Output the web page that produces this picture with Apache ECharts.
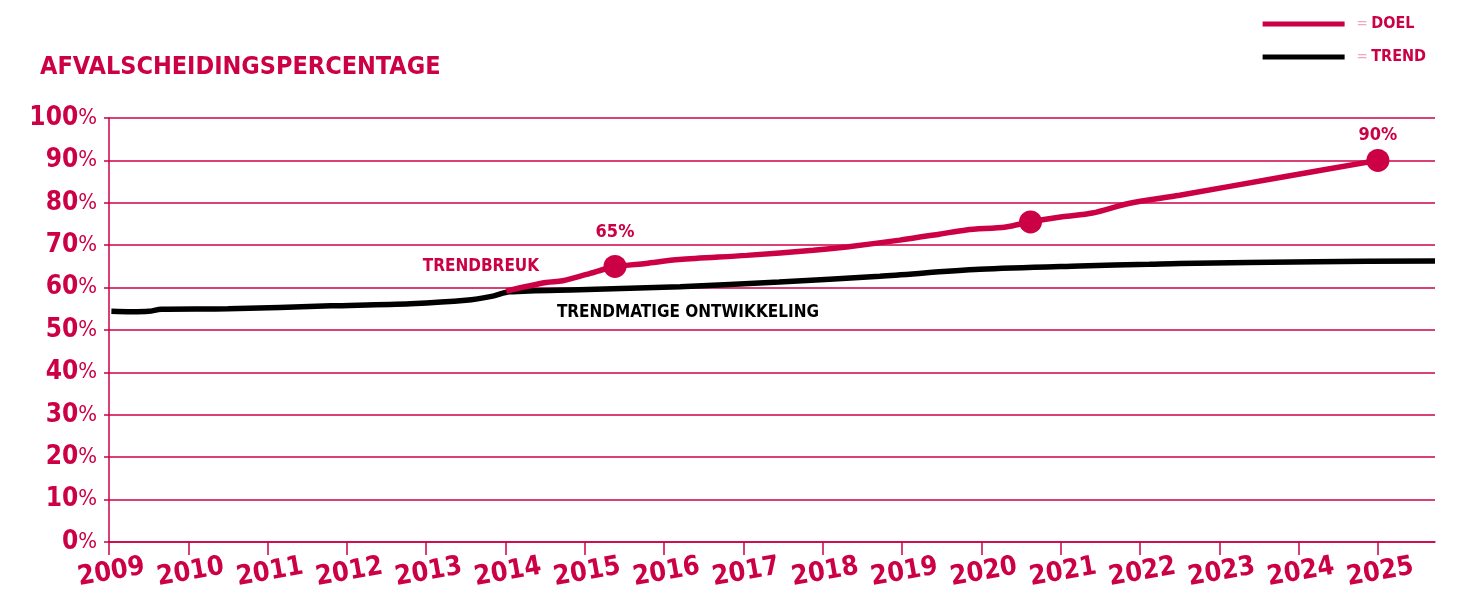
<!DOCTYPE html>
<html>
<head>
<meta charset="utf-8">
<script src="https://cdn.jsdelivr.net/npm/echarts@6/dist/echarts.min.js"></script>
<style>
  html, body { margin: 0; padding: 0; background: #fff; }
  #main { width: 1468px; height: 596px; }
</style>
</head>
<body>
<div id="main"></div>
<script>
  var CRIMSON = '#cc0044';
  var FONT = '"Liberation Sans Narrow", "DejaVu Sans Condensed", "Roboto Condensed", "Liberation Sans", sans-serif';

  // x-as jaartallen en y-as percentages
  var years = [2009, 2010, 2011, 2012, 2013, 2014, 2015, 2016, 2017, 2018, 2019, 2020, 2021, 2022, 2023, 2024, 2025];
  var pctTicks = [0, 10, 20, 30, 40, 50, 60, 70, 80, 90, 100];

  // trendmatige ontwikkeling (zwart)
  var trendYears = [2009.03, 2009.28, 2009.5, 2009.66, 2010.5, 2011.8, 2012.8, 2013.5, 2013.84, 2014.05, 2014.93, 2016.2, 2017.45, 2018.72, 2019.98, 2021.24, 2022.12, 2022.5, 2024.22, 2025.72];
  var trendValues = [54.4, 54.3, 54.4, 54.9, 55.0, 55.7, 56.2, 57.0, 58.0, 59.0, 59.5, 60.2, 61.3, 62.7, 64.3, 65.1, 65.5, 65.7, 66.1, 66.3];

  // doel / trendbreuk (rood)
  var doelYears = [2014.01, 2014.51, 2014.72, 2015.02, 2015.37, 2015.77, 2016.19, 2017.04, 2017.88, 2018.3, 2018.97, 2019.47, 2019.81, 2020.31, 2020.62, 2021.02, 2021.4, 2021.87, 2022.5, 2023.8, 2025.0];
  var doelValues = [59.2, 61.2, 61.6, 63.1, 64.9, 65.7, 66.6, 67.6, 68.8, 69.6, 71.2, 72.6, 73.6, 74.3, 75.5, 76.7, 77.6, 79.9, 81.8, 86.1, 90.0];

  // mijlpalen op de doellijn
  var mileYears = [2015.38, 2020.62, 2025.0];
  var mileValues = [65, 75.5, 90];
  var mileLabels = ['65%', '', '90%'];

  // tekstjes in de grafiek
  var noteYears = [2013.69, 2016.3];
  var noteValues = [64.9, 54.2];
  var noteTexts = ['TRENDBREUK', 'TRENDMATIGE ONTWIKKELING'];

  function zip(xs, ys) {
    return xs.map(function (x, i) { return [x, ys[i]]; });
  }

  var myChart = echarts.init(document.getElementById('main'));
  var option = {
    animation: false,
    title: {
      text: 'AFVALSCHEIDINGSPERCENTAGE',
      left: 35,
      top: 50,
      textStyle: { color: CRIMSON, fontFamily: FONT, fontWeight: 'bold', fontSize: 25 }
    },
    legend: {
      data: ['DOEL', 'TREND'],
      orient: 'vertical',
      right: 37,
      top: 11,
      itemWidth: 82,
      itemHeight: 5,
      itemGap: 17,
      icon: 'rect',
      formatter: function (name) { return '{eq|=} {t|' + name + '}'; },
      textStyle: {
        padding: [0, 0, 0, 7],
        rich: {
          eq: { color: '#f1a7bd', fontFamily: FONT, fontSize: 15 },
          t: { color: CRIMSON, fontFamily: FONT, fontWeight: 'bold', fontSize: 16 }
        }
      }
    },
    grid: { left: 109, right: 33, top: 118, bottom: 54 },
    xAxis: {
      type: 'value',
      min: 2009,
      max: 2025.72,
      interval: 1,
      axisLine: { lineStyle: { color: CRIMSON, width: 1.5 } },
      axisTick: { show: true, length: 13, customValues: years, lineStyle: { color: CRIMSON, width: 1.5 } },
      splitLine: { show: false },
      axisLabel: {
        customValues: years,
        rotate: 10,
        align: 'center',
        verticalAlign: 'top',
        margin: 17,
        color: CRIMSON,
        fontFamily: FONT,
        fontWeight: 'bold',
        fontSize: 27,
        formatter: function (v) { return String(Math.round(v)); }
      }
    },
    yAxis: {
      type: 'value',
      min: 0,
      max: 100,
      interval: 10,
      axisLine: { show: true, lineStyle: { color: CRIMSON, width: 1.5 } },
      axisTick: { show: true, length: 5, lineStyle: { color: CRIMSON, width: 1.5 } },
      splitLine: { lineStyle: { color: CRIMSON, width: 1.5 } },
      axisLabel: {
        customValues: pctTicks,
        margin: 12,
        formatter: function (v) { return '{n|' + v + '}{p|%}'; },
        rich: {
          n: { color: CRIMSON, fontFamily: FONT, fontWeight: 'bold', fontSize: 26 },
          p: { color: CRIMSON, fontFamily: FONT, fontWeight: 'normal', fontSize: 22 }
        }
      }
    },
    series: [
      {
        name: 'TREND',
        type: 'line',
        data: zip(trendYears, trendValues),
        smooth: 0.3,
        symbol: 'none',
        color: '#000',
        lineStyle: { color: '#000', width: 5.5 },
        z: 2
      },
      {
        name: 'DOEL',
        type: 'line',
        data: zip(doelYears, doelValues),
        smooth: 0.3,
        symbol: 'none',
        color: CRIMSON,
        lineStyle: { color: CRIMSON, width: 5.5 },
        z: 3
      },
      {
        name: 'mijlpalen',
        type: 'scatter',
        data: zip(mileYears, mileValues).map(function (d, i) {
          return {
            value: d,
            label: { show: mileLabels[i] !== '', formatter: mileLabels[i], distance: i === 0 ? 14 : 5 }
          };
        }),
        symbol: 'circle',
        symbolSize: 23,
        itemStyle: { color: CRIMSON, opacity: 1 },
        label: {
          position: 'top',
          color: CRIMSON,
          fontFamily: FONT,
          fontWeight: 'bold',
          fontSize: 18
        },
        z: 4
      },
      {
        name: 'teksten',
        type: 'scatter',
        data: zip(noteYears, noteValues).map(function (d, i) {
          return {
            value: d,
            label: { formatter: noteTexts[i], color: i === 0 ? CRIMSON : '#000' }
          };
        }),
        symbolSize: 0,
        itemStyle: { opacity: 1 },
        label: {
          show: true,
          position: 'inside',
          fontFamily: FONT,
          fontWeight: 'bold',
          fontSize: 17
        },
        z: 5
      }
    ]
  };
  myChart.setOption(option);
</script>
</body>
</html>
